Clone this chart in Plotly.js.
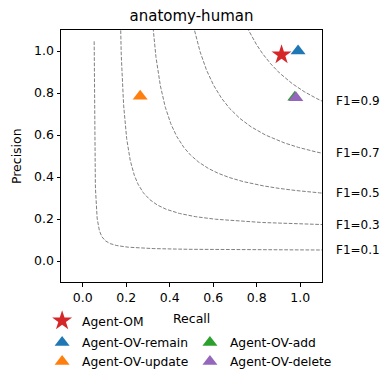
<!DOCTYPE html>
<html>
<head>
<meta charset="utf-8">
<script src="https://cdn.plot.ly/plotly-3.0.1.min.js"></script>
<style>
  body { margin: 0; background: #fff; }
  #chart { width: 390px; height: 381px; }
</style>
</head>
<body>
<div id="chart"></div>
<script>
// agents and their (recall, precision) on anatomy-human
const agentNames = ['Agent-OM', 'Agent-OV-remain', 'Agent-OV-update', 'Agent-OV-add', 'Agent-OV-delete'];
const recallVals = [0.914, 0.99, 0.264, 0.975, 0.98];
const precisionVals = [0.982, 1.0, 0.785, 0.78, 0.777];
const agentSymbols = ['star', 'triangle-up', 'triangle-up', 'triangle-up', 'triangle-up'];
const agentColors = ['#d62728', '#1f77b4', '#ff7f0e', '#2ca02c', '#9467bd'];
const agentLegends = ['legend', 'legend2', 'legend2', 'legend3', 'legend3'];

// iso-F1 reference curves
const f1Levels = [0.1, 0.3, 0.5, 0.7, 0.9];

let traces = [];

f1Levels.forEach(function(f) {
    let xs = [], ys = [];
    let top = f < 0.2 ? 1.08 : 1.5;
    for (let i = 0; i <= 2000; i++) {
        let r = 0.01 + (1.1 - 0.01) * i / 2000;
        let p = f * r / (2 * r - f);
        if (p >= 0 && p <= top) {
            xs.push(r);
            ys.push(p);
        }
    }
    traces.push({
        x: xs, y: ys,
        mode: 'lines',
        line: {color: '#808080', width: 1, dash: '3.7px,1.6px'},
        hoverinfo: 'skip',
        showlegend: false
    });
});

for (let i = 0; i < agentNames.length; i++) {
    traces.push({
        x: [recallVals[i]],
        y: [precisionVals[i]],
        mode: 'markers',
        name: agentNames[i],
        legend: agentLegends[i],
        marker: {
            symbol: agentSymbols[i],
            color: agentColors[i],
            size: agentSymbols[i] === 'star' ? 15 : 13,
            line: {width: 0}
        }
    });
}

// label each curve just right of the frame, at the height it leaves the plot
let annotations = f1Levels.map(function(f) {
    let yEnd = f * 1.1 / (2 * 1.1 - f);
    return {
        x: 1.046, y: yEnd,
        xref: 'paper', yref: 'y',
        text: 'F1=' + f,
        showarrow: false,
        xanchor: 'left',
        yanchor: 'middle',
        font: {size: 12, color: '#000'}
    };
});

// axis titles placed by hand
annotations.push({
    x: 0.5, y: -0.143, xref: 'paper', yref: 'paper',
    text: 'Recall', showarrow: false,
    xanchor: 'center', yanchor: 'middle',
    font: {size: 12.5, color: '#000'}
});
annotations.push({
    x: -0.172, y: 0.5, xref: 'paper', yref: 'paper',
    text: 'Precision', showarrow: false, textangle: -90,
    xanchor: 'center', yanchor: 'middle',
    font: {size: 12.5, color: '#000'}
});

let legendStyle = {
    orientation: 'v',
    xanchor: 'left', yanchor: 'top',
    xref: 'container', yref: 'container',
    bgcolor: 'rgba(0,0,0,0)',
    font: {size: 12.3, color: '#000'},
    tracegroupgap: 0,
    itemclick: false
};

let layout = {
    width: 390,
    height: 381,
    margin: {l: 61, r: 68, t: 30, b: 99, autoexpand: false},
    paper_bgcolor: '#fff',
    plot_bgcolor: '#fff',
    font: {family: 'DejaVu Sans', size: 12.5, color: '#000'},
    title: {text: 'anatomy-human', x: 0.5, xanchor: 'center', xref: 'paper', y: 0.958, yanchor: 'middle', font: {size: 15}},
    xaxis: {
        range: [-0.1, 1.1],
        tick0: 0, dtick: 0.2,
        tickformat: '.1f',
        ticks: 'outside', ticklen: 3.5, tickcolor: '#000',
        showline: true, linecolor: '#000', linewidth: 1, mirror: true,
        showgrid: false, zeroline: false
    },
    yaxis: {
        range: [-0.1, 1.1],
        tick0: 0, dtick: 0.2,
        tickformat: '.1f',
        ticks: 'outside', ticklen: 3.5, tickcolor: '#000',
        showline: true, linecolor: '#000', linewidth: 1, mirror: true,
        showgrid: false, zeroline: false
    },
    legend: Object.assign({}, legendStyle, {x: 0.108, y: 0.196}),
    legend2: Object.assign({}, legendStyle, {x: 0.108, y: 0.139}),
    legend3: Object.assign({}, legendStyle, {x: 0.487, y: 0.139}),
    annotations: annotations,
    showlegend: true
};

Plotly.newPlot('chart', traces, layout, {displayModeBar: false, staticPlot: true});
</script>
</body>
</html>
